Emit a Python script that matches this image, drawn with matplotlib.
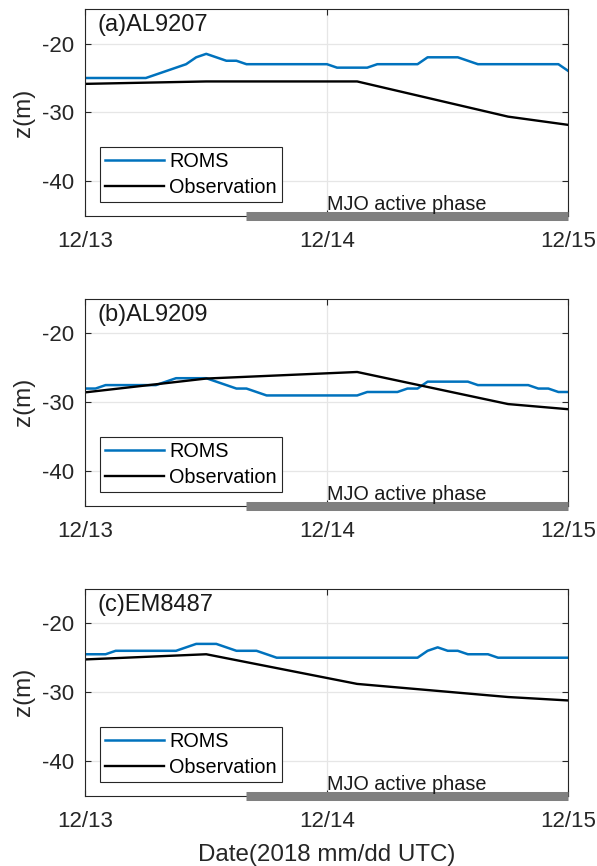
import numpy as np
import matplotlib
matplotlib.use("Agg")
import matplotlib.pyplot as plt
import matplotlib.dates as mdates

plt.rcParams['font.family'] = ['Liberation Sans', 'DejaVu Sans']
plt.rcParams['axes.unicode_minus'] = False

# time axis: hourly model output from 2018-12-13 00 UTC
Start = np.datetime64('2018-12-13T00:00')
Hours = np.arange(49)
Time = Start + Hours.astype('timedelta64[h]')

# observation times (hours after start)
ObsHours = np.array([0, 12, 27, 42, 48])
ObsTime = Start + ObsHours.astype('timedelta64[h]')

# MJO active phase (hours after start)
MJOStart = Start + np.timedelta64(16, 'h')
MJOEnd = Start + np.timedelta64(48, 'h')
MJOText = Start + np.timedelta64(24, 'h')

Names = ["(a)AL9207", "(b)AL9209", "(c)EM8487"]

RomsA = [-25, -25, -25, -25, -25, -25, -25, -24.5, -24, -23.5, -23, -22, -21.5, -22,
         -22.5, -22.5, -23, -23, -23, -23, -23, -23, -23, -23, -23, -23.5, -23.5, -23.5,
         -23.5, -23, -23, -23, -23, -23, -22, -22, -22, -22, -22.5, -23, -23, -23, -23,
         -23, -23, -23, -23, -23, -24]
RomsB = [-28, -28, -27.5, -27.5, -27.5, -27.5, -27.5, -27.5, -27, -26.5, -26.5, -26.5,
         -26.5, -27, -27.5, -28, -28, -28.5, -29, -29, -29, -29, -29, -29, -29, -29, -29,
         -29, -28.5, -28.5, -28.5, -28.5, -28, -28, -27, -27, -27, -27, -27, -27.5, -27.5,
         -27.5, -27.5, -27.5, -27.5, -28, -28, -28.5, -28.5]
RomsC = [-24.5, -24.5, -24.5, -24, -24, -24, -24, -24, -24, -24, -23.5, -23, -23, -23,
         -23.5, -24, -24, -24, -24.5, -25, -25, -25, -25, -25, -25, -25, -25, -25, -25,
         -25, -25, -25, -25, -25, -24, -23.5, -24, -24, -24.5, -24.5, -24.5, -25, -25,
         -25, -25, -25, -25, -25, -25]

ObsA = [-25.85, -25.5, -25.5, -30.6, -31.8]
ObsB = [-28.55, -26.55, -25.6, -30.25, -31.0]
ObsC = [-25.25, -24.5, -28.8, -30.7, -31.2]

Roms = [RomsA, RomsB, RomsC]
Obs = [ObsA, ObsB, ObsC]

Bottoms = [0.7506, 0.4159, 0.0812]
Edge = "#262626"

fig = plt.figure(figsize=(5.97, 8.66), dpi=100)

for i in range(3):
    ax = fig.add_axes([0.1432, Bottoms[i], 0.809, 0.239])
    ax.set_axisbelow(True)
    ax.grid(color="#e6e6e6", linewidth=0.9)

    ax.plot(Time, Roms[i], color="#0072BD", linewidth=1.8, label="ROMS")
    ax.plot(ObsTime, Obs[i], color="black", linewidth=1.7, label="Observation")

    # MJO active phase bar
    ax.plot([MJOStart, MJOEnd], [-45, -45], color="#808080", linewidth=6.5,
            solid_capstyle="butt", clip_on=False, zorder=3)
    ax.text(MJOText, -44.2, "MJO active phase", fontsize=14.3, va="baseline",
            color="#1a1a1a")

    ax.text(0.025, 0.975, Names[i], transform=ax.transAxes, fontsize=17,
            va="top", ha="left", color="#1a1a1a")

    ax.set_xlim(Time[0], Time[-1])
    ax.set_ylim(-45, -15)
    ax.set_yticks([-40, -30, -20])
    ax.set_xticks([Start, MJOText, MJOEnd])
    ax.xaxis.set_major_formatter(mdates.DateFormatter('%m/%d'))
    ax.tick_params(direction="in", length=4, width=0.8, colors=Edge,
                   labelsize=16, top=True, right=True)
    ax.tick_params(axis="x", pad=11)
    ax.tick_params(axis="y", pad=8)
    for s in ax.spines.values():
        s.set_color(Edge)
        s.set_linewidth(0.8)

    ax.set_ylabel("z(m)", fontsize=17.5, color=Edge, labelpad=5)

    leg = ax.legend(loc="lower left", bbox_to_anchor=(0.03, 0.066), borderaxespad=0,
                    fontsize=14.3, fancybox=False, framealpha=1, edgecolor=Edge,
                    handlelength=2.95, handletextpad=0.3, borderpad=0.25,
                    labelspacing=0.38)
    leg.get_frame().set_linewidth(0.8)

    if i == 2:
        ax.set_xlabel("Date(2018 mm/dd UTC)", fontsize=17.4, color=Edge, labelpad=9)

plt.savefig("out.png", dpi=100)
